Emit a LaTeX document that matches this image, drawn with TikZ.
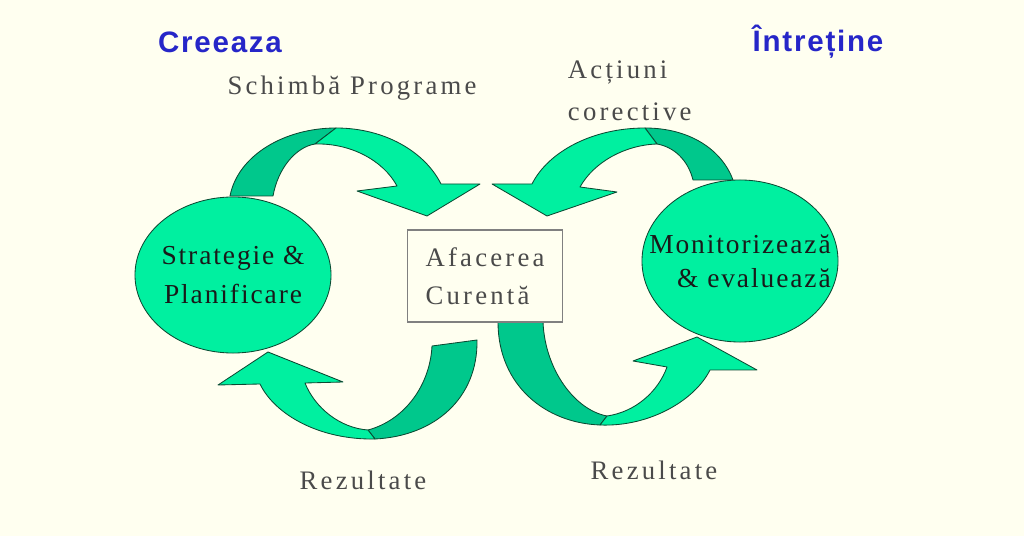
\documentclass[tikz,border=0pt]{standalone}
\usepackage{fontspec}
\setmainfont{Liberation Serif}
\newfontfamily\headfont[LetterSpace=6]{Liberation Sans}
\newfontfamily\labfont[LetterSpace=12]{Liberation Serif}
\newfontfamily\blobfont[LetterSpace=7]{Liberation Serif}
\usetikzlibrary{shapes.geometric}

\definecolor{paper}{HTML}{FFFFF0}
\definecolor{arrlight}{HTML}{00F0A0}
\definecolor{arrdark}{HTML}{00C88C}
\definecolor{edge}{HTML}{0B4A33}
\definecolor{headblue}{HTML}{2626C8}
\definecolor{labgray}{HTML}{4A4A4A}

\begin{document}
\begin{tikzpicture}[
  x=0.025cm, y=-0.025cm,
  head/.style={font=\headfont\bfseries\fontsize{21}{25}\selectfont, text=headblue},
  lab/.style={font=\labfont\fontsize{19}{30}\selectfont, text=labgray, align=left},
  blob/.style={ellipse, draw=edge, fill=arrlight, line width=0.6pt, inner sep=-16pt,
    font=\blobfont\fontsize{19.5}{28}\selectfont, text=black!90},
  back/.style={fill=arrdark, draw=edge, line width=0.6pt, line join=round},
  front/.style={fill=arrlight, draw=edge, line width=0.6pt, line join=round}
]
\useasboundingbox[fill=paper] (0,0) rectangle (1024,536);

% Top arrows
\path[back] (230,196) .. controls (238,155) and (285,128) .. (336,128)
  -- (315,144) .. controls (296,147) and (278,168) .. (273,196) -- cycle;
\path[front] (336,128) .. controls (385,128) and (425,152) .. (441,184)
  -- (480,184) -- (427,216) -- (357,191) -- (397,186)
  .. controls (383,160) and (350,143) .. (315,144) -- cycle;

\path[back] (733,180) .. controls (722,150) and (690,128) .. (645,128)
  -- (657,144) .. controls (674,147) and (688,160) .. (693,180) -- cycle;
\path[front] (645,128) .. controls (592,128) and (548,152) .. (532,184)
  -- (492,184) -- (547,216) -- (617,192) -- (580,187)
  .. controls (594,162) and (625,145) .. (657,144) -- cycle;

% Bottom arrows
\path[back] (477,340) .. controls (478,398) and (435,436) .. (375,439)
  -- (368,430) .. controls (405,420) and (430,385) .. (432,346) -- cycle;
\path[front] (375,439) .. controls (320,440) and (275,415) .. (260,384)
  -- (218,385) -- (268,352) -- (343,382) -- (305,383)
  .. controls (315,408) and (340,428) .. (368,430) -- cycle;

\path[back] (498,322) .. controls (498,385) and (545,423) .. (600,425)
  -- (607,416) .. controls (575,410) and (545,370) .. (543,322) -- cycle;
\path[front] (600,425) .. controls (650,427) and (695,400) .. (710,370)
  -- (757,370) -- (697,337) -- (633,361) -- (667,367)
  .. controls (658,392) and (635,412) .. (607,416) -- cycle;

% Nodes
\node[blob, minimum width=4.9cm, minimum height=3.9cm, align=center] (strat) at (233,275)
  {Strategie \&\\Planificare};
\node[blob, minimum width=4.9cm, minimum height=4.05cm, align=right,
  font=\blobfont\fontsize{19.5}{24}\selectfont] (monit) at (740,261)
  {Monitorizează\\\& evaluează};
\node[draw=black!50, fill=paper, line width=1.3pt, minimum width=3.875cm, minimum height=2.3cm,
  align=left, font=\labfont\fontsize{19}{27}\selectfont, text=labgray] (afac) at (485,276)
  {Afacerea\\Curentă};

% Labels
\node[head] (creeaza) at (220,42) {Creeaza};
\node[head] (intretine) at (818,42) {Întreține};
\node[lab] (schimba) at (352,88) {Schimbă Programe};
\node[lab, anchor=west] (actiuni) at (563,91) {Acțiuni\\corective};
\node[lab] (rezA) at (363,480) {Rezultate};
\node[lab] (rezB) at (654,470) {Rezultate};

\end{tikzpicture}
\end{document}
